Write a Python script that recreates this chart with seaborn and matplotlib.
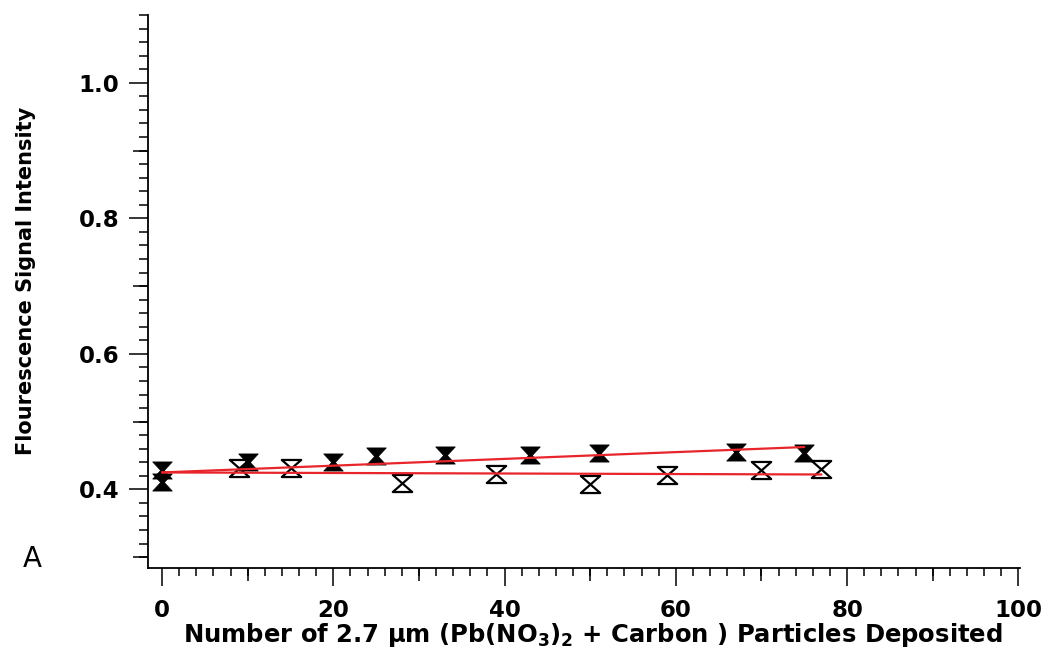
import matplotlib
matplotlib.use("Agg")
import matplotlib.pyplot as plt
from matplotlib.path import Path
from matplotlib.ticker import MultipleLocator, NullLocator, FixedLocator
import pandas as pd
import seaborn as sns

# Fluorescence signal vs. number of deposited particles
filled_x = [0, 0, 10, 20, 25, 33, 43, 51, 67, 75]
filled_y = [0.429, 0.411, 0.4405, 0.4405, 0.450, 0.4514, 0.4514, 0.4537, 0.455, 0.4543]

open_x = [9, 15, 28, 39, 50, 59, 70, 77]
open_y = [0.431, 0.4323, 0.4097, 0.4224, 0.4078, 0.421, 0.4293, 0.4298]

# Linear trend lines (end points)
filled_fit_x = [0, 75]
filled_fit_y = [0.425, 0.4625]
open_fit_x = [0, 77]
open_fit_y = [0.425, 0.422]

x_ticks = [0, 20, 40, 60, 80, 100]
x_tick_labels = ["0", "20", "40", "60", "80", "100"]
y_ticks = [0.4, 0.6, 0.8, 1.0]
y_tick_labels = ["0.4", "0.6", "0.8", "1.0"]
x_mid_ticks = [10, 30, 50, 70, 90]
y_mid_ticks = [0.3, 0.5, 0.7, 0.9]

x_label = r"Number of 2.7 µm (Pb(NO$_\mathbf{3}$)$_\mathbf{2}$ + Carbon ) Particles Deposited"
y_label = "Flourescence Signal Intensity"
panel_label = "A"

sns.set_theme(style="ticks")
plt.rcParams["font.family"] = ["DejaVu Sans"]
plt.rcParams["mathtext.default"] = "bf"

filled_df = pd.DataFrame({"x": filled_x, "y": filled_y})
open_df = pd.DataFrame({"x": open_x, "y": open_y})
filled_fit = pd.DataFrame({"x": filled_fit_x, "y": filled_fit_y})
open_fit = pd.DataFrame({"x": open_fit_x, "y": open_fit_y})

# hourglass symbols
hourglass_solid = Path([(-1, 0.88), (1, 0.88), (0.18, 0), (1, -0.88), (-1, -0.88), (-0.18, 0), (-1, 0.88)],
                       [Path.MOVETO] + [Path.LINETO] * 5 + [Path.CLOSEPOLY])
hourglass_open = Path([(-1, 0.88), (1, 0.88), (-1, -0.88), (1, -0.88), (-1, 0.88)],
                      [Path.MOVETO] + [Path.LINETO] * 3 + [Path.CLOSEPOLY])

fig = plt.figure(figsize=(10.47, 6.49), dpi=100)
ax = fig.add_axes([0.1414, 0.1248, 0.8329, 0.8521])

red = "#e8252b"
sns.lineplot(data=filled_fit, x="x", y="y", ax=ax, color=red, linewidth=1.6, zorder=4)
sns.lineplot(data=open_fit, x="x", y="y", ax=ax, color=red, linewidth=1.6, zorder=4)

sns.scatterplot(data=open_df, x="x", y="y", ax=ax, marker=hourglass_open, s=195,
                facecolor="white", edgecolor="black", linewidth=1.6, zorder=3)
sns.scatterplot(data=filled_df, x="x", y="y", ax=ax, marker=hourglass_solid, s=195,
                color="black", edgecolor="black", linewidth=0.6, zorder=3)

ax.set_xlim(-1.64, 100.2)
ax.set_ylim(0.284, 1.10)

for side in ["top", "right"]:
    ax.spines[side].set_visible(False)
for side in ["left", "bottom"]:
    ax.spines[side].set_linewidth(1.3)
    ax.spines[side].set_color("black")

ax.set_xticks(x_ticks)
ax.set_xticklabels(x_tick_labels)
ax.set_yticks(y_ticks)
ax.set_yticklabels(y_tick_labels)
ax.xaxis.set_minor_locator(MultipleLocator(2))
ax.yaxis.set_minor_locator(MultipleLocator(0.02))

ax.tick_params(axis="both", which="major", direction="out", color="black", width=1.1)
ax.tick_params(axis="x", which="major", length=13, pad=9, labelsize=16.5)
ax.tick_params(axis="y", which="major", length=13.7, pad=7, labelsize=16.5)
ax.tick_params(axis="x", which="minor", direction="out", length=5.8, width=1.1, color="black")
ax.tick_params(axis="y", which="minor", direction="out", length=6.5, width=1.1, color="black")
for lab in ax.get_xticklabels() + ax.get_yticklabels():
    lab.set_fontweight("bold")
    lab.set_color("black")

# intermediate ticks between the labelled ones
sec_x = ax.secondary_xaxis("bottom")
sec_x.xaxis.set_major_locator(FixedLocator(x_mid_ticks))
sec_x.xaxis.set_minor_locator(NullLocator())
sec_x.tick_params(axis="x", which="major", direction="out", length=9.4, width=1.1,
                  color="black", labelbottom=False)
sec_x.spines["bottom"].set_visible(False)

sec_y = ax.secondary_yaxis("left")
sec_y.yaxis.set_major_locator(FixedLocator(y_mid_ticks))
sec_y.yaxis.set_minor_locator(NullLocator())
sec_y.tick_params(axis="y", which="major", direction="out", length=10.8, width=1.1,
                  color="black", labelleft=False)
sec_y.spines["left"].set_visible(False)

ax.set_xlabel(x_label, fontsize=17.5, fontweight="bold", color="black")
ax.xaxis.set_label_coords(0.5103, -0.095)
ax.set_ylabel(y_label, fontsize=15, fontweight="bold", color="black")
ax.yaxis.set_label_coords(-0.128, 0.519)

fig.text(32.5 / 1047, 1 - 567 / 649, panel_label, fontsize=20, ha="center", va="baseline",
         color="black")

fig.savefig("out.png", dpi=100, facecolor="white")
